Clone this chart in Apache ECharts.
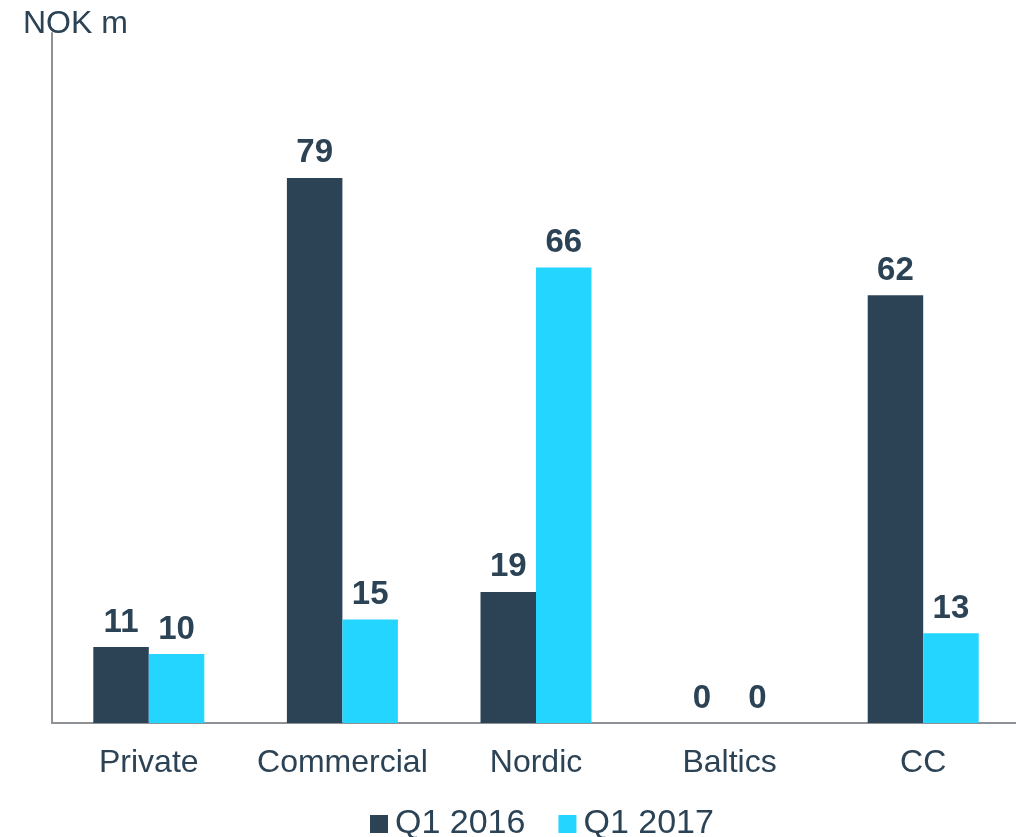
<!DOCTYPE html>
<html>
<head>
<meta charset="utf-8">
<script src="https://cdn.jsdelivr.net/npm/echarts@6/dist/echarts.min.js"></script>
<style>
  html, body { margin: 0; padding: 0; background: #ffffff; }
  #chart { width: 1016px; height: 837px; }
</style>
</head>
<body>
<div id="chart"></div>
<script>
// Segment results, NOK million
const categories = ['Private', 'Commercial', 'Nordic', 'Baltics', 'CC'];
const seriesNames = ['Q1 2016', 'Q1 2017'];
const q1_2016 = [11, 79, 19, 0, 62];
const q1_2017 = [10, 15, 66, 0, 13];

const textColor = '#2C4356';
const font = 'Liberation Sans, Arial, sans-serif';

const chart = echarts.init(document.getElementById('chart'));

const labelStyle = {
  show: true,
  position: 'top',
  distance: 8,
  color: textColor,
  fontFamily: font,
  fontWeight: 'bold',
  fontSize: 33
};

chart.setOption({
  animation: false,
  textStyle: { fontFamily: font },
  // the plot runs slightly past the right edge of the canvas
  grid: { left: 52, width: 968, top: 33, bottom: 114, outerBoundsMode: 'none' },
  legend: {
    data: seriesNames,
    top: 802,
    left: 365,
    icon: 'rect',
    itemWidth: 18,
    itemHeight: 18,
    itemGap: 33,
    textStyle: { color: textColor, fontSize: 34, fontFamily: font, padding: [0, 0, 0, 2] }
  },
  xAxis: {
    type: 'category',
    data: categories,
    axisLine: { lineStyle: { color: '#8E9297', width: 2 } },
    axisTick: { show: false },
    axisLabel: { color: textColor, fontSize: 32, fontFamily: font, margin: 24, interval: 0 }
  },
  yAxis: {
    type: 'value',
    min: 0,
    max: 100,
    name: 'NOK m',
    nameLocation: 'end',
    nameGap: -7,
    nameTextStyle: { color: textColor, fontSize: 32, fontFamily: font, align: 'left', padding: [0, 0, 0, -29] },
    axisLine: { show: true, lineStyle: { color: '#8E9297', width: 2 } },
    axisTick: { show: false },
    axisLabel: { show: false },
    splitLine: { show: false }
  },
  series: [
    {
      name: seriesNames[0],
      type: 'bar',
      data: q1_2016,
      barWidth: 55.5,
      barGap: '0%',
      itemStyle: { color: '#2C4356' },
      label: labelStyle
    },
    {
      name: seriesNames[1],
      type: 'bar',
      data: q1_2017,
      barWidth: 55.5,
      barGap: '0%',
      itemStyle: { color: '#24D6FF' },
      label: labelStyle
    }
  ]
});
</script>
</body>
</html>
